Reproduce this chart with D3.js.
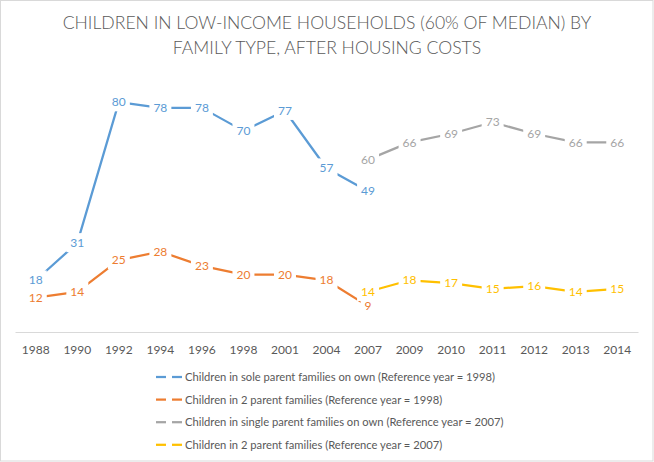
<!DOCTYPE html>
<html>
<head>
<meta charset="utf-8">
<script src="https://cdn.jsdelivr.net/npm/d3@7"></script>
<style>
  body { margin: 0; background: #fff; }
  svg { display: block; font-family: Lato, "Open Sans", sans-serif; }
</style>
</head>
<body>
<svg id="chart" width="654" height="462"></svg>
<script>
const years = ['1988', '1990', '1992', '1994', '1996', '1998', '2001', '2004', '2007', '2009', '2010', '2011', '2012', '2013', '2014'];

// null = no value for that year
const soleParent1998 = [18, 31, 80, 78, 78, 70, 77, 57, 49, null, null, null, null, null, null];
const twoParent1998 = [12, 14, 25, 28, 23, 20, 20, 18, 9, null, null, null, null, null, null];
const singleParent2007 = [null, null, null, null, null, null, null, null, 60, 66, 69, 73, 69, 66, 66];
const twoParent2007 = [null, null, null, null, null, null, null, null, 14, 18, 17, 15, 16, 14, 15];

const seriesNames = [
  'Children in sole parent families on own (Reference year = 1998)',
  'Children in 2 parent families (Reference year = 1998)',
  'Children in single parent families on own (Reference year = 2007)',
  'Children in 2 parent families (Reference year = 2007)',
];
const seriesColors = ['#5B9BD5', '#ED7D31', '#A5A5A5', '#FFC000'];
const seriesValues = [soleParent1998, twoParent1998, singleParent2007, twoParent2007];

const w = 654;
const h = 462;
const plotLeft = 15;
const plotRight = 638;
const plotTop = 73.4;
const plotBottom = 332;

const svg = d3.select('#chart');

// chart border
svg.append('rect')
  .attr('x', 0.5).attr('y', 0.5)
  .attr('width', w - 1.5).attr('height', h - 1.5)
  .attr('fill', '#fff')
  .attr('stroke', '#d9d9d9');

// title
const title = svg.append('text')
  .attr('text-anchor', 'middle')
  .attr('fill', '#595959')
  .style('font-size', '17.6px')
  .style('font-weight', 300);
title.append('tspan').attr('x', 327).attr('y', 29).text('CHILDREN IN LOW-INCOME HOUSEHOLDS (60% OF MEDIAN) BY');
title.append('tspan').attr('x', 327).attr('y', 54).text('FAMILY TYPE, AFTER HOUSING COSTS');

const xScale = d3.scaleBand().domain(years).range([plotLeft, plotRight]);
const xPos = (d) => xScale(d) + xScale.bandwidth() / 2;
const yScale = d3.scaleLinear().domain([0, 90]).range([plotBottom, plotTop]);

// x axis
const xAxis = d3.axisBottom(xScale).tickSize(0).tickPadding(13);
const gx = svg.append('g')
  .attr('transform', `translate(0, ${plotBottom})`)
  .call(xAxis);
gx.select('.domain').attr('stroke', '#d9d9d9').attr('stroke-width', 1);
gx.selectAll('text')
  .attr('fill', '#595959')
  .style('font-size', '12px')
  .style('font-family', 'Lato, "Open Sans", sans-serif');

// lines
const line = d3.line()
  .defined((d) => d.v !== null)
  .x((d) => xPos(d.year))
  .y((d) => yScale(d.v));

seriesValues.forEach((vals, s) => {
  const pts = vals.map((v, i) => ({ year: years[i], v }));
  svg.append('path')
    .datum(pts)
    .attr('d', line)
    .attr('fill', 'none')
    .attr('stroke', seriesColors[s])
    .attr('stroke-width', 2.25)
    .attr('stroke-linejoin', 'round');
});

// data labels, white box knocks out the line under them
seriesValues.forEach((vals, s) => {
  vals.forEach((v, i) => {
    if (v === null) return;
    const g = svg.append('g');
    const bg = g.append('rect').attr('fill', '#fff');
    const t = g.append('text')
      .attr('x', xPos(years[i]))
      .attr('y', yScale(v))
      .attr('dy', '0.35em')
      .attr('text-anchor', 'middle')
      .attr('fill', seriesColors[s])
      .style('font-size', '12px')
      .text(v);
    const bb = t.node().getBBox();
    bg.attr('x', bb.x - 4).attr('y', bb.y - 2)
      .attr('width', bb.width + 8).attr('height', bb.height + 4);
  });
});

// legend
const legend = svg.append('g');
seriesNames.forEach((name, s) => {
  const y = 377 + s * 22.6;
  [[156, 166], [172, 182]].forEach(([x1, x2]) => {
    legend.append('line')
      .attr('x1', x1).attr('x2', x2)
      .attr('y1', y).attr('y2', y)
      .attr('stroke', seriesColors[s])
      .attr('stroke-width', 2.25);
  });
  legend.append('text')
    .attr('x', 185)
    .attr('y', y)
    .attr('dy', '0.35em')
    .attr('fill', '#595959')
    .style('font-size', '11.2px')
    .text(name);
});
</script>
</body>
</html>
